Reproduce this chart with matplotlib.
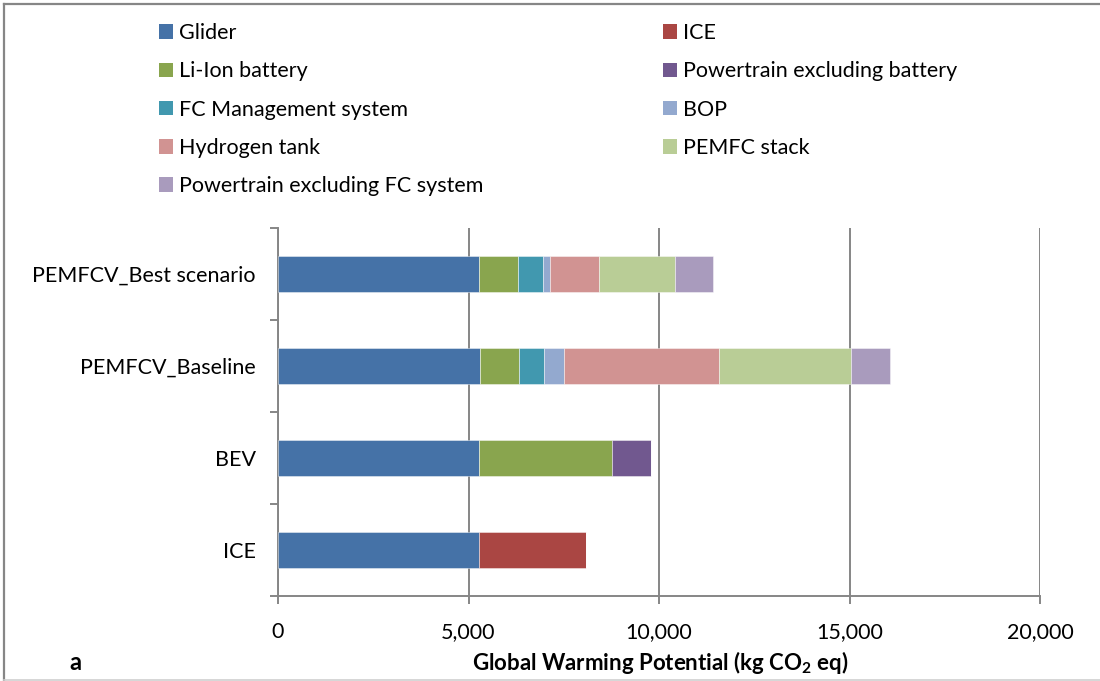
import matplotlib
matplotlib.use("Agg")
import numpy as np
import matplotlib.pyplot as plt
from matplotlib.patches import Patch
from matplotlib.lines import Line2D

plt.rcParams["font.family"] = ["Lato", "DejaVu Sans"]
plt.rcParams["mathtext.fontset"] = "custom"
plt.rcParams["mathtext.rm"] = "Lato"
plt.rcParams["mathtext.bf"] = "Lato:bold"

# vehicles, bottom to top
vehicles = ["ICE", "BEV", "PEMFCV_Baseline", "PEMFCV_Best scenario"]

# kg CO2 eq per component, one value per vehicle (same order as above)
glider = [5280, 5280, 5290, 5280]
ice = [2810, 0, 0, 0]
li_ion = [0, 3490, 1040, 1030]
pt_excl_battery = [0, 1025, 0, 0]
fc_mgmt = [0, 0, 655, 650]
bop = [0, 0, 525, 167]
h2_tank = [0, 0, 4077, 1287]
pemfc_stack = [0, 0, 3455, 2005]
pt_excl_fc = [0, 0, 1019, 999]

components = [
    ("Glider", glider, "#4572A7"),
    ("ICE", ice, "#AA4643"),
    ("Li-Ion battery", li_ion, "#89A54E"),
    ("Powertrain excluding battery", pt_excl_battery, "#71588F"),
    ("FC Management system", fc_mgmt, "#4198AF"),
    ("BOP", bop, "#93A9CF"),
    ("Hydrogen tank", h2_tank, "#D19392"),
    ("PEMFC stack", pemfc_stack, "#B9CD96"),
    ("Powertrain excluding FC system", pt_excl_fc, "#A99BBD"),
]

W, H = 1100, 681
fs = 15.5
fig = plt.figure(figsize=(W / 100, H / 100), dpi=100)
ax = fig.add_axes([278 / W, (H - 596) / H, (1040 - 278) / W, (596 - 228) / H])

grid_col = "#868686"
y = np.arange(len(vehicles))
left = np.zeros(len(vehicles))
for name, vals, col in components:
    vals = np.array(vals, dtype=float)
    ax.barh(y, vals, left=left, height=0.4, color=col,
            edgecolor=(1, 1, 1, 0.5), linewidth=0.6, zorder=3)
    left += vals

ax.set_xlim(0, 20000)
ax.set_ylim(-0.5, 3.5)
ax.set_xticks(np.arange(0, 20001, 5000))
ax.set_xticklabels([f"{v:,}" for v in range(0, 20001, 5000)])
ax.set_yticks(y)
ax.set_yticklabels(vehicles)
ax.set_yticks(np.arange(-0.5, 3.6, 1), minor=True)

ax.grid(axis="x", color=grid_col, linewidth=1.4, zorder=0)
for s in ["top", "right"]:
    ax.spines[s].set_visible(False)
for s in ["left", "bottom"]:
    ax.spines[s].set_color(grid_col)
    ax.spines[s].set_linewidth(1.4)

ax.tick_params(axis="y", which="major", length=0, pad=16, labelsize=fs)
ax.tick_params(axis="y", which="minor", length=6, width=1.4, color=grid_col)
ax.tick_params(axis="x", length=6, width=1.4, color=grid_col, pad=13, labelsize=fs)

# legend in two columns
handles = [Patch(facecolor=c, edgecolor="none") for _, _, c in components]
labels = [n for n, _, _ in components]
leg_kw = dict(frameon=False, fontsize=fs, handlelength=0.65, handleheight=0.65,
              handletextpad=0.3, labelspacing=0.85, borderaxespad=0, borderpad=0)
fig.legend(handles[0::2], labels[0::2], loc="upper left",
           bbox_to_anchor=(159 / W, 1 - 23 / H), **leg_kw)
fig.legend(handles[1::2], labels[1::2], loc="upper left",
           bbox_to_anchor=(663 / W, 1 - 23 / H), **leg_kw)

fig.text(660 / W, 1 - 663 / H, r"Global Warming Potential (kg CO$_\mathbf{2}$ eq)",
         ha="center", va="center", fontsize=16, fontweight="bold")
fig.text(75 / W, 1 - 663 / H, "a", ha="center", va="center",
         fontsize=17, fontweight="bold")

# outer frame
fig.add_artist(Line2D([4 / W, 1], [1 - 4 / H, 1 - 4 / H], color=grid_col, lw=1.6))
fig.add_artist(Line2D([4 / W, 4 / W], [1 - 4 / H, 1 / H], color=grid_col, lw=1.6))
fig.add_artist(Line2D([4 / W, 1], [1.5 / H, 1.5 / H], color="#d0d0d0", lw=1.2))

fig.savefig("out.png", dpi=100)
